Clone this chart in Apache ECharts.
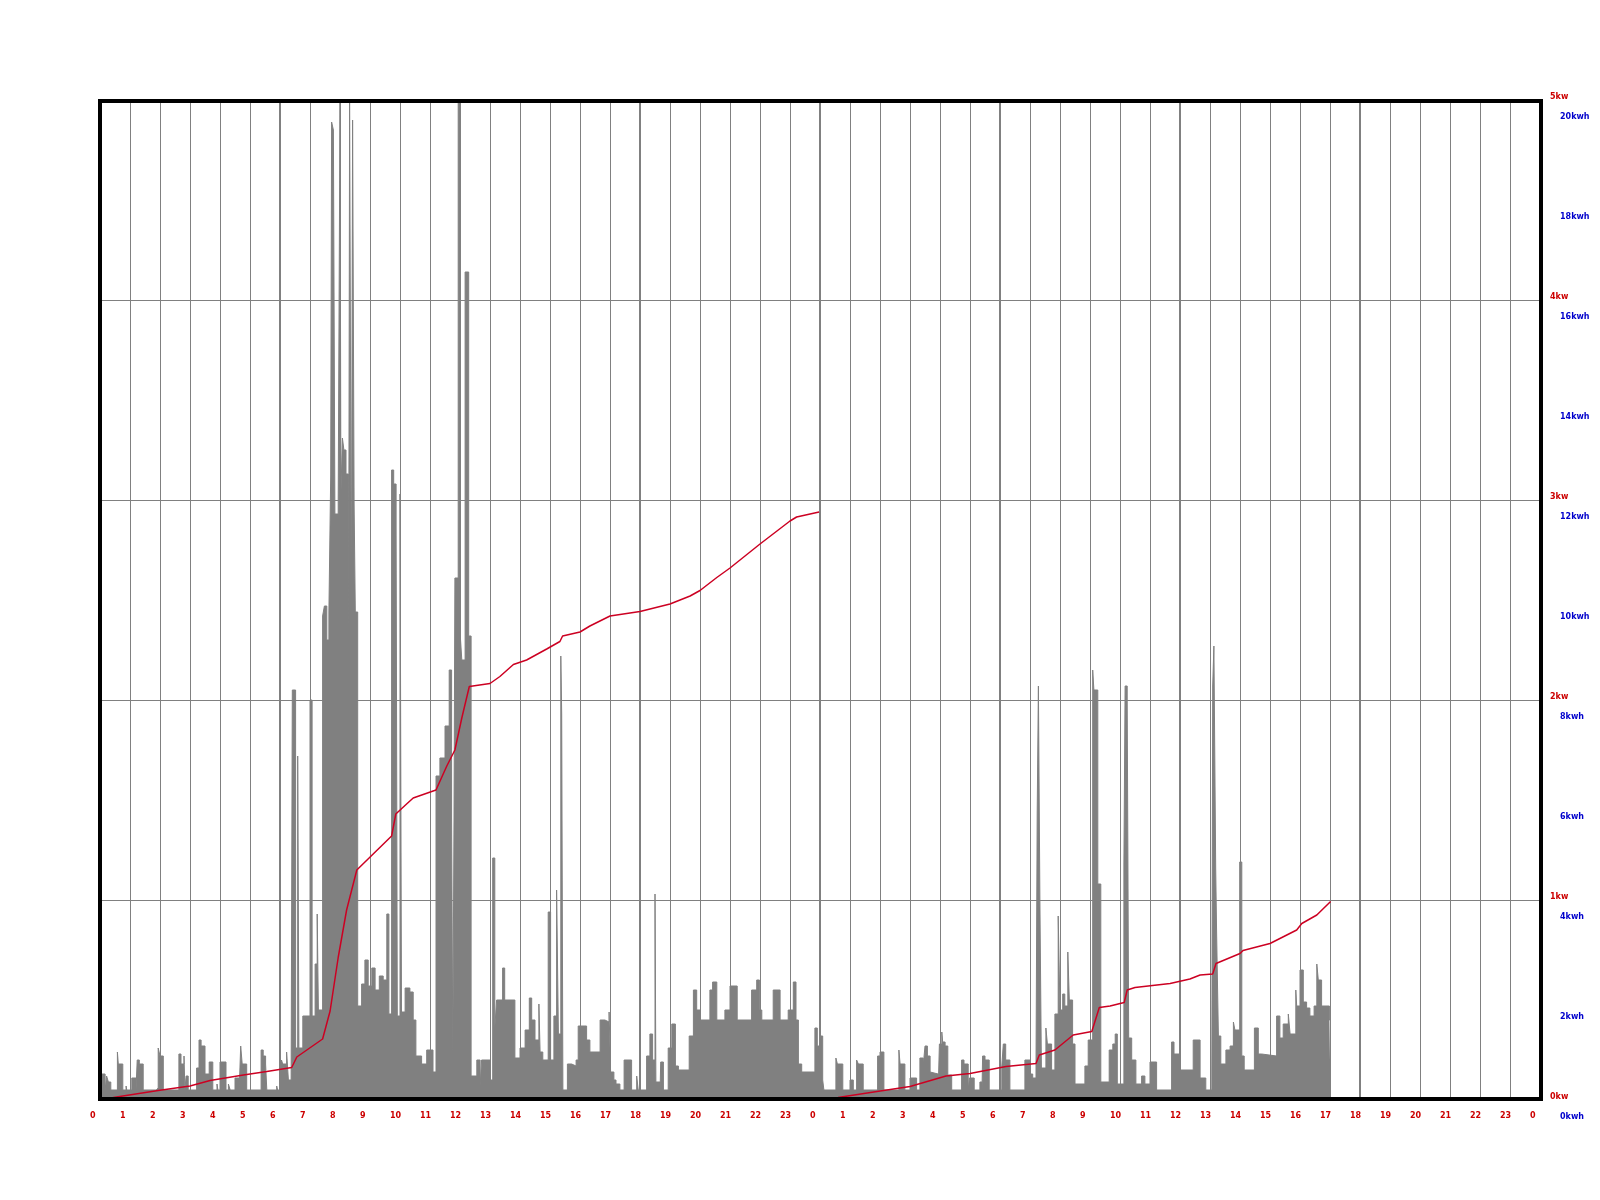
<!DOCTYPE html>
<html>
<head>
<meta charset="utf-8">
<script src="https://cdn.jsdelivr.net/npm/echarts@6/dist/echarts.min.js"></script>
<style>html,body{margin:0;padding:0;background:#fff}#c{width:1600px;height:1200px}</style>
</head>
<body>
<div id="c"></div>
<script>
// Hour-of-day tick labels across two days
const xTickLabels = ['0','1','2','3','4','5','6','7','8','9','10','11','12','13','14','15','16','17','18','19','20','21','22','23',
  '0','1','2','3','4','5','6','7','8','9','10','11','12','13','14','15','16','17','18','19','20','21','22','23','0'];
const kwLabels = ['0kw','1kw','2kw','3kw','4kw','5kw'];
const kwhLabels = ['0kwh','2kwh','4kwh','6kwh','8kwh','10kwh','12kwh','14kwh','16kwh','18kwh','20kwh'];

// Power (kW), day 1: [hour of day, kW] — value holds until next point
const powerDay1 = [
  [0,0.13],[0.17,0.05],[0.22,0.12],[0.28,0.09],[0.36,0.05],[0.58,0.24],[0.61,0.18],[0.76,0.05],[0.87,0.07],[0.89,0.05],
  [1.06,0.11],[1.2,0.05],[1.24,0.2],[1.31,0.18],[1.44,0.05],[1.87,0.06],[1.94,0.26],[2.0,0.22],[2.11,0.05],
  [2.63,0.23],[2.7,0.18],[2.8,0.22],[2.83,0.05],[2.87,0.12],[2.94,0.05],[3.22,0.16],[3.3,0.3],[3.37,0.27],[3.5,0.13],
  [3.64,0.19],[3.76,0.05],[3.9,0.08],[3.93,0.05],[4.0,0.19],[4.2,0.05],[4.28,0.08],[4.34,0.05],[4.5,0.11],[4.64,0.05],
  [4.69,0.27],[4.74,0.18],[4.89,0.05],[5.37,0.25],[5.44,0.22],[5.52,0.18],[5.56,0.05],[5.89,0.07],[5.92,0.05],
  [6.05,0.2],[6.09,0.18],[6.22,0.24],[6.28,0.1],[6.37,0.05],[6.41,2.05],[6.52,0.26],[6.59,1.72],[6.63,0.26],[6.76,0.42],
  [7.0,2.0],[7.07,0.42],[7.17,0.68],[7.24,0.93],[7.28,0.45],[7.42,2.42],[7.48,2.47],[7.56,2.3],[7.63,2.44],[7.69,3.12],
  [7.72,4.89],[7.78,4.85],[7.83,2.93],[7.94,3.0],[8.0,5.0],[8.03,3.03],[8.08,3.31],[8.13,3.25],[8.2,3.13],[8.28,1.61],
  [8.32,5.0],[8.38,2.45],[8.42,4.9],[8.47,2.98],[8.51,2.44],[8.59,0.47],[8.72,0.58],[8.83,0.7],[8.94,0.57],[9.06,0.66],
  [9.17,0.55],[9.31,0.62],[9.44,0.6],[9.56,0.93],[9.63,0.43],[9.72,3.15],[9.79,3.08],[9.87,2.87],[9.91,0.42],[10.0,3.03],
  [10.05,0.44],[10.17,0.56],[10.33,0.54],[10.44,0.4],[10.53,0.22],[10.72,0.18],[10.89,0.25],[11.1,0.14],[11.2,1.62],
  [11.33,1.71],[11.5,1.87],[11.64,2.15],[11.72,1.42],[11.76,0.23],[11.8,1.42],[11.83,2.61],[11.94,5.0],[12.01,2.32],
  [12.06,2.2],[12.17,4.14],[12.29,2.32],[12.37,0.12],[12.56,0.2],[12.67,0.07],[12.72,0.2],[13.0,0.1],[13.09,1.21],
  [13.16,0.36],[13.22,0.5],[13.42,0.66],[13.49,0.5],[13.83,0.21],[14.0,0.26],[14.17,0.35],[14.31,0.51],[14.39,0.4],
  [14.5,0.3],[14.63,0.48],[14.67,0.24],[14.76,0.2],[14.94,0.94],[15.02,0.2],[15.13,0.42],[15.22,1.05],[15.28,0.33],
  [15.36,2.22],[15.39,1.93],[15.43,0.05],[15.58,0.18],[15.72,0.17],[15.87,0.2],[15.94,0.37],[16.22,0.3],[16.33,0.24],
  [16.67,0.4],[16.83,0.39],[16.97,0.44],[17.02,0.14],[17.13,0.1],[17.2,0.08],[17.33,0.05],[17.47,0.2],[17.72,0.05],
  [17.89,0.12],[17.94,0.05],[18.22,0.22],[18.33,0.33],[18.42,0.2],[18.5,1.03],[18.53,0.09],[18.67,0.05],[18.69,0.19],
  [18.78,0.05],[18.94,0.26],[19.06,0.38],[19.18,0.17],[19.28,0.15],[19.64,0.32],[19.78,0.55],[19.89,0.45],[20.0,0.4],
  [20.33,0.55],[20.42,0.59],[20.56,0.4],[20.83,0.45],[21.0,0.57],[21.24,0.4],[21.72,0.55],[21.89,0.6],[21.98,0.45],
  [22.06,0.4],[22.44,0.55],[22.67,0.4],[22.94,0.45],[23.11,0.59],[23.2,0.4],[23.28,0.18],[23.39,0.14],[23.83,0.36],
  [23.91,0.27]
];

// Power (kW), day 2: [hour of day, kW]
const powerDay2 = [
  [0,0.32],[0.09,0.1],[0.13,0.05],[0.53,0.21],[0.58,0.18],[0.76,0.05],[1.0,0.1],[1.11,0.05],[1.22,0.2],[1.28,0.18],
  [1.44,0.05],[1.92,0.22],[2.0,0.24],[2.13,0.05],[2.63,0.25],[2.67,0.18],[2.83,0.05],[3.0,0.11],[3.22,0.05],[3.33,0.21],
  [3.44,0.17],[3.5,0.27],[3.58,0.22],[3.67,0.14],[3.72,0.13],[3.94,0.05],[3.98,0.28],[4.06,0.34],[4.09,0.29],[4.17,0.27],
  [4.26,0.125],[4.39,0.05],[4.72,0.2],[4.8,0.18],[4.94,0.05],[4.98,0.11],[5.14,0.05],[5.33,0.09],[5.4,0.05],[5.42,0.22],
  [5.5,0.2],[5.64,0.05],[6.06,0.17],[6.11,0.28],[6.19,0.2],[6.33,0.05],[6.83,0.2],[7.0,0.13],[7.09,0.11],[7.2,0.18],
  [7.24,1.44],[7.28,2.07],[7.33,1.0],[7.38,0.16],[7.53,0.36],[7.58,0.28],[7.72,0.15],[7.83,0.43],[7.94,0.92],[8.0,0.45],
  [8.09,0.53],[8.16,0.47],[8.26,0.74],[8.31,0.5],[8.42,0.28],[8.5,0.08],[8.83,0.17],[8.94,0.3],[9.09,2.15],[9.13,2.05],
  [9.26,1.08],[9.36,0.09],[9.64,0.25],[9.76,0.28],[9.84,0.33],[9.91,0.08],[10.13,1.18],[10.17,2.07],[10.24,2.0],
  [10.29,0.31],[10.39,0.2],[10.53,0.08],[10.72,0.12],[10.83,0.08],[11.0,0.19],[11.22,0.05],[11.72,0.29],[11.8,0.23],
  [11.98,0.15],[12.44,0.3],[12.67,0.11],[12.86,0.05],[13.06,0.14],[13.09,2.07],[13.13,2.27],[13.19,1.16],[13.22,0.84],
  [13.28,0.32],[13.36,0.18],[13.53,0.25],[13.67,0.27],[13.78,0.39],[13.83,0.35],[13.99,1.19],[14.06,0.22],[14.14,0.15],
  [14.48,0.36],[14.61,0.23],[14.72,0.22],[15.22,0.42],[15.33,0.31],[15.44,0.38],[15.61,0.43],[15.67,0.33],[15.86,0.55],
  [15.89,0.47],[16.0,0.65],[16.11,0.49],[16.22,0.46],[16.33,0.42],[16.47,0.47],[16.56,0.68],[16.61,0.6],[16.72,0.47],
  [16.98,0.4],[17.02,0.4]
];

// Cumulative energy (kWh) per day: [hour of day, kWh]
const energyDay1 = [
  [0,0],[0.55,0.06],[1.94,0.19],[3.0,0.28],[3.67,0.39],[4.78,0.5],[5.56,0.57],[6.39,0.65],[6.56,0.86],[7.42,1.22],
  [7.67,1.78],[7.94,2.85],[8.22,3.8],[8.56,4.6],[9.72,5.28],[9.86,5.72],[10.22,5.92],[10.44,6.04],[11.2,6.2],[11.56,6.68],
  [11.83,7.0],[12.06,7.64],[12.31,8.27],[13.0,8.33],[13.33,8.47],[13.78,8.71],[14.22,8.8],[14.89,9.02],[15.33,9.17],
  [15.42,9.28],[16.0,9.36],[16.33,9.48],[17.0,9.68],[18.0,9.77],[19.0,9.92],[19.67,10.08],[20.0,10.19],[20.56,10.45],
  [21.0,10.64],[22.0,11.12],[23.0,11.58],[23.22,11.66],[23.97,11.76]
];
const energyDay2 = [
  [0,0],[0.6,0.05],[1.9,0.17],[3.0,0.27],[4.2,0.48],[5.0,0.53],[6.2,0.67],[7.2,0.73],[7.31,0.9],[7.83,1.0],[8.44,1.3],
  [9.06,1.37],[9.31,1.85],[9.67,1.88],[10.14,1.95],[10.24,2.2],[10.5,2.25],[11.67,2.33],[12.33,2.42],[12.67,2.5],
  [13.09,2.52],[13.2,2.73],[14.0,2.93],[14.1,2.99],[15.0,3.13],[15.89,3.4],[16.06,3.53],[16.56,3.7],[17.02,3.97]
];

const shift = (arr, d) => arr.map(p => [p[0] + d, p[1]]);
const powerData = powerDay1.concat(shift(powerDay2, 24));

const labelFont = {fontFamily: 'DejaVu Sans', fontWeight: 'bold', fontSize: 8};
const grey = '#808080';

const chart = echarts.init(document.getElementById('c'), null, {renderer: 'canvas'});
chart.setOption({
  animation: false,
  backgroundColor: '#ffffff',
  grid: [
    {left: 100, right: 60, top: 100, bottom: 100},
    {left: 90, right: 70, top: 100, bottom: 100},
    {left: 100, right: 60, top: 97, bottom: 103},
    {left: 100, right: 60, top: 117, bottom: 83}
  ],
  xAxis: [
    {gridIndex: 0, type: 'value', min: 0, max: 48, interval: 1, axisLine: {show: false}, axisTick: {show: false},
      axisLabel: {show: false}, splitLine: {show: true, lineStyle: {color: grey, width: 1}}},
    {gridIndex: 0, type: 'value', min: 0, max: 48, interval: 6, axisLine: {show: false}, axisTick: {show: false},
      axisLabel: {show: false}, splitLine: {show: true, lineStyle: {color: grey, width: 2}}},
    {gridIndex: 1, type: 'value', min: 0, max: 48, interval: 1, position: 'bottom', axisLine: {show: false},
      axisTick: {show: false}, splitLine: {show: false},
      axisLabel: Object.assign({show: true, align: 'left', margin: 12, color: '#cc0000', showMinLabel: true, showMaxLabel: true,
        formatter: v => xTickLabels[Math.round(v)]}, labelFont)},
    {gridIndex: 2, type: 'value', min: 0, max: 1, show: false},
    {gridIndex: 3, type: 'value', min: 0, max: 1, show: false}
  ],
  yAxis: [
    {gridIndex: 0, type: 'value', min: 0, max: 5, interval: 1, position: 'right', axisLine: {show: false},
      axisTick: {show: false}, axisLabel: {show: false}, splitLine: {show: true, lineStyle: {color: grey, width: 1}}},
    {gridIndex: 0, type: 'value', min: 0, max: 20, interval: 2, position: 'right', axisLine: {show: false},
      axisTick: {show: false}, axisLabel: {show: false}, splitLine: {show: false}},
    {gridIndex: 1, type: 'value', min: 0, max: 1, show: false},
    {gridIndex: 2, type: 'value', min: 0, max: 5, interval: 1, position: 'right', axisLine: {show: false},
      axisTick: {show: false}, splitLine: {show: false},
      axisLabel: Object.assign({show: true, align: 'left', margin: 10, color: '#cc0000', showMinLabel: true, showMaxLabel: true,
        formatter: v => kwLabels[Math.round(v)]}, labelFont)},
    {gridIndex: 3, type: 'value', min: 0, max: 20, interval: 2, position: 'right', axisLine: {show: false},
      axisTick: {show: false}, splitLine: {show: false},
      axisLabel: Object.assign({show: true, align: 'left', margin: 20, color: '#0000cc', showMinLabel: true, showMaxLabel: true,
        formatter: v => kwhLabels[Math.round(v / 2)]}, labelFont)}
  ],
  series: [
    {type: 'line', xAxisIndex: 0, yAxisIndex: 0, data: powerData, step: 'end', symbol: 'none',
      lineStyle: {color: grey, width: 1}, areaStyle: {color: grey, opacity: 1}, z: 2, silent: true},
    {type: 'line', xAxisIndex: 0, yAxisIndex: 1, data: energyDay1, symbol: 'none',
      lineStyle: {color: '#cc0022', width: 1.5}, z: 3, silent: true},
    {type: 'line', xAxisIndex: 0, yAxisIndex: 1, data: shift(energyDay2, 24), symbol: 'none',
      lineStyle: {color: '#cc0022', width: 1.5}, z: 3, silent: true}
  ],
  graphic: [
    {type: 'rect', z: 100, silent: true, shape: {x: 100, y: 101, width: 1441, height: 998},
      style: {fill: null, stroke: '#000000', lineWidth: 4}}
  ]
});
</script>
</body>
</html>
